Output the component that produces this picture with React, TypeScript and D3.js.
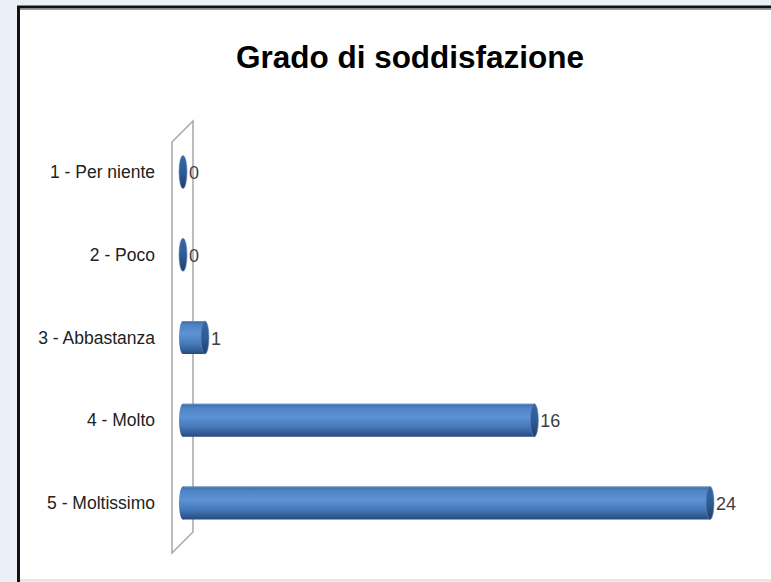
import React from 'react';
import * as d3 from 'd3';

const categories = ['1 - Per niente', '2 - Poco', '3 - Abbastanza', '4 - Molto', '5 - Moltissimo'];
const values = [0, 0, 1, 16, 24];
const title = 'Grado di soddisfazione';

const W = 771;
const H = 582;

export default function App() {
  // scales
  const x = d3.scaleLinear().domain([0, 24]).range([183, 710]);
  const y = d3.scalePoint<string>().domain(categories).range([172, 503]);

  const ry = 16.5; // cylinder radius (vertical)
  const rx = 4; // cap ellipse half-width
  const font = "'Liberation Sans Narrow', 'Arial Narrow', 'Liberation Sans', sans-serif";

  // back wall of the 3D category axis
  const wallFront = 172;
  const wallBack = 193;
  const wallTop = 142;
  const wallBottom = 553;
  const depth = 21;

  return (
    <svg width={W} height={H} style={{ position: 'fixed', left: 0, top: 0, display: 'block' }}>
      <defs>
        <linearGradient id="barGrad" x1="0" y1="0" x2="0" y2="1">
          <stop offset="0" stopColor="#3a68a3" />
          <stop offset="0.12" stopColor="#4f83c3" />
          <stop offset="0.4" stopColor="#5c93d6" />
          <stop offset="0.7" stopColor="#4678b8" />
          <stop offset="0.92" stopColor="#2f5890" />
          <stop offset="1" stopColor="#28497a" />
        </linearGradient>
        <linearGradient id="capGrad" x1="0" y1="0" x2="0" y2="1">
          <stop offset="0" stopColor="#3a66a0" />
          <stop offset="0.5" stopColor="#2d5c97" />
          <stop offset="1" stopColor="#213f6b" />
        </linearGradient>
      </defs>
      <rect x={0} y={0} width={W} height={H} fill="#eaeff8" />
      <rect x={19} y={7} width={W} height={573} fill="#ffffff" />
      <line x1={19} y1={580} x2={W} y2={580} stroke="#d0d0d0" strokeWidth={1} />
      <line x1={18.5} y1={6} x2={18.5} y2={H} stroke="#111" strokeWidth={3} />
      <line x1={17} y1={7} x2={W} y2={7} stroke="#111" strokeWidth={3} />
      <line x1={20} y1={9.5} x2={W} y2={9.5} stroke="#999" strokeWidth={1} />

      <text
        x={410}
        y={68}
        textAnchor="middle"
        fontFamily={font}
        fontWeight="bold"
        fontSize={31}
        fill="#000"
        textLength={348}
        lengthAdjust="spacingAndGlyphs"
      >
        {title}
      </text>

      {/* axis wall */}
      <path
        d={`M${wallFront},${wallTop} L${wallBack},${wallTop - depth} L${wallBack},${wallBottom - depth} L${wallFront},${wallBottom} Z`}
        fill="none"
        stroke="#a6a6a6"
        strokeWidth={1.5}
      />

      {categories.map((c) => (
        <text
          key={c}
          x={155}
          y={(y(c) ?? 0) + 6}
          textAnchor="end"
          fontFamily={font}
          fontSize={17.5}
          fill="#222"
        >
          {c}
        </text>
      ))}

      {categories.map((c, i) => {
        const v = values[i];
        const cy = y(c) ?? 0;
        const x0 = x(0);
        const x1 = x(v);
        return (
          <g key={c}>
            {v > 0 && (
              <>
                <ellipse cx={x0} cy={cy} rx={rx} ry={ry} fill="url(#barGrad)" />
                <rect x={x0} y={cy - ry} width={x1 - x0} height={ry * 2} fill="url(#barGrad)" />
                <line x1={x0} y1={cy - ry + 0.5} x2={x1} y2={cy - ry + 0.5} stroke="#7fa6d6" strokeWidth={1} opacity={0.6} />
              </>
            )}
            <ellipse cx={x1} cy={cy} rx={rx} ry={ry} fill="url(#capGrad)" stroke="#5d86bd" strokeWidth={0.6} />
            <text
              x={x1 + rx + 2}
              y={cy + 7}
              fontFamily={font}
              fontSize={18}
              fill="#404040"
            >
              {v}
            </text>
          </g>
        );
      })}
    </svg>
  );
}
